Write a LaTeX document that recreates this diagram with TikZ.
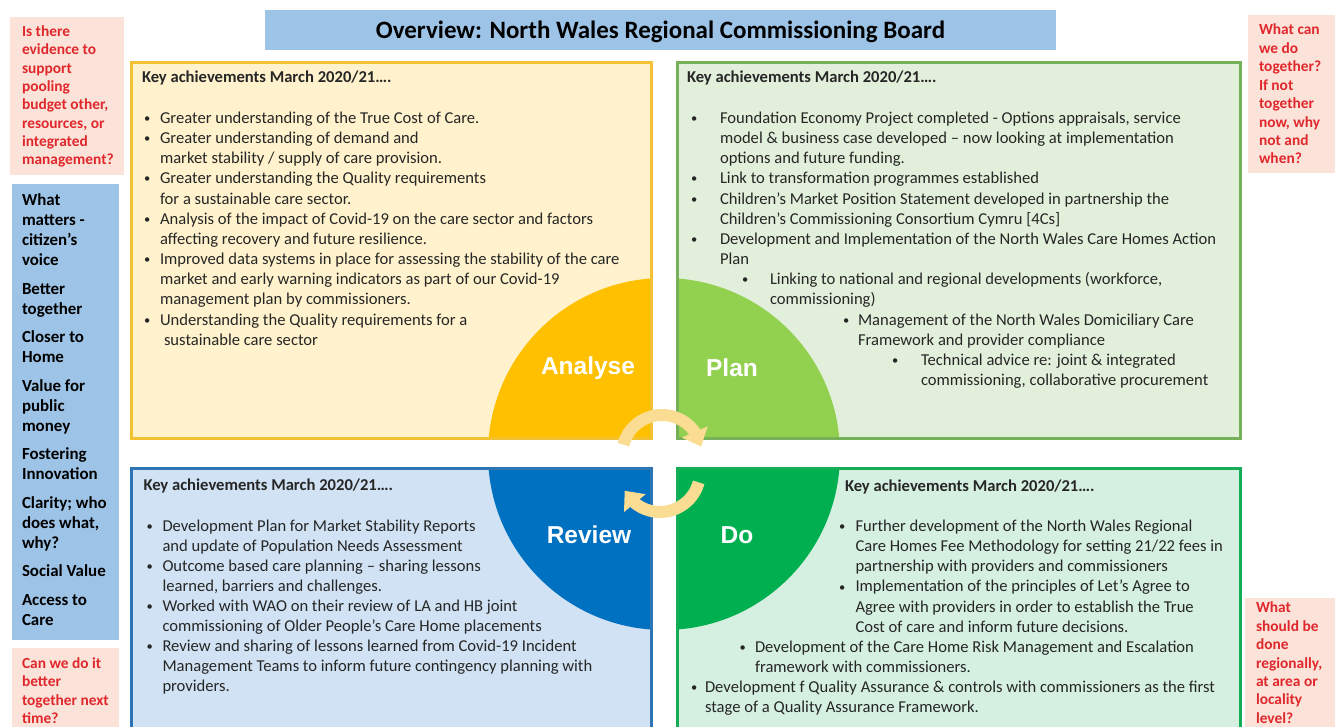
\documentclass[tikz,border=0pt]{standalone}
\usepackage{fontspec}
\setmainfont{Carlito}
\newfontfamily\arialfont{Liberation Sans}
\usetikzlibrary{arrows.meta,bending}
\definecolor{titlebg}{HTML}{9DC3E6}
\definecolor{pinkbg}{HTML}{FBE3DA}
\definecolor{redtxt}{HTML}{E0282C}
\definecolor{bluebg}{HTML}{9DC3E6}
\definecolor{tlfill}{HTML}{FFF2CC}
\definecolor{tlline}{HTML}{F2C232}
\definecolor{trfill}{HTML}{E2EFDA}
\definecolor{trline}{HTML}{76B15A}
\definecolor{blfill}{HTML}{D0E2F3}
\definecolor{blline}{HTML}{2E75B6}
\definecolor{brfill}{HTML}{D5F0E0}
\definecolor{brline}{HTML}{14AC55}
\definecolor{analysec}{HTML}{FFC000}
\definecolor{planc}{HTML}{92D050}
\definecolor{reviewc}{HTML}{0070C0}
\definecolor{doc}{HTML}{00B050}
\definecolor{cycc}{HTML}{FADD92}
\definecolor{bodytxt}{HTML}{262626}
\newcommand\smbul{\raisebox{0.9pt}{\fontsize{12.5}{12.5}\selectfont\textbullet}}
\newcommand\bll[3]{\hspace*{#1pt}\makebox[0pt][l]{\smbul}\hspace*{\dimexpr #2pt - #1pt\relax}#3}
\newcommand\txl[2]{\hspace*{#1pt}#2}
\tikzset{
  txt/.style={anchor=base west, inner sep=0pt, outer sep=0pt, text=bodytxt, font=\fontsize{16.6}{20}\selectfont},
  redq/.style={anchor=base west, inner sep=0pt, outer sep=0pt, text=redtxt, font=\fontsize{15.4}{18.4}\selectfont\bfseries},
  bluet/.style={anchor=base west, inner sep=0pt, outer sep=0pt, text=black, font=\fontsize{16.9}{20}\selectfont\bfseries},
  lab/.style={inner sep=0pt, text=white, font=\arialfont\bfseries\fontsize{24.5}{28}\selectfont},
  cyc/.style={draw=cycc, line width=12pt, -{Triangle[width=27pt,length=16pt]}},
  qbox/.style={line width=3pt}
}
\begin{document}
\begin{tikzpicture}[x=1pt,y=1pt]
\useasboundingbox (0,0) rectangle (1339,727);
\clip (0,0) rectangle (1339,727);
\fill[white] (0,0) rectangle (1339,727);
% title
\fill[titlebg] (265,677) rectangle (1056,717);
\node[inner sep=0pt, font=\fontsize{25}{30}\selectfont\bfseries, text=black] (title) at (660.5,695.5) {Overview: North Wales Regional Commissioning Board};
% side boxes
\fill[pinkbg] (10,552) rectangle (124,710);
\fill[bluebg] (12,87) rectangle (119,543);
\fill[pinkbg] (12,-5) rectangle (119,79);
\fill[pinkbg] (1248,554) rectangle (1335,712);
\fill[pinkbg] (1245,-5) rectangle (1335,129);
% quadrants
\fill[tlfill] (131,288) rectangle (651,664);
\begin{scope}\clip (131,288) rectangle (651,664); \fill[analysec] (664,273) circle[radius=176];\end{scope}
\draw[qbox, tlline] (131,288) rectangle (651,664);
\fill[trfill] (677,288) rectangle (1240,664);
\begin{scope}\clip (677,288) rectangle (1240,664); \fill[planc] (664,273) circle[radius=176];\end{scope}
\draw[qbox, trline] (677,288) rectangle (1240,664);
\fill[blfill] (131,-10) rectangle (651,258);
\begin{scope}\clip (131,-10) rectangle (651,258); \fill[reviewc] (664,273) circle[radius=176];\end{scope}
\draw[qbox, blline] (131,-10) rectangle (651,258);
\fill[brfill] (677,-10) rectangle (1240,258);
\begin{scope}\clip (677,-10) rectangle (1240,258); \fill[doc] (664,273) circle[radius=176];\end{scope}
\draw[qbox, brline] (677,-10) rectangle (1240,258);
% stage labels
\node[lab] (analyse) at (588,359) {Analyse};
\node[lab] (plan) at (732,359) {Plan};
\node[lab] (review) at (589,192) {Review};
\node[lab] (do) at (737,192) {Do};
% cycle arrows
\coordinate (ctop) at (662,272);
\coordinate (cbot) at (660,255);
\draw[cyc] ([shift={(165:40)}]ctop) arc[start angle=165, end angle=12, radius=40];
\draw[cyc] ([shift={(-15:40)}]cbot) arc[start angle=-15, end angle=-152, radius=40];
% side texts
\node[redq] (q1) at (22,690.5) {\parbox[t]{110pt}{\setlength\baselineskip{18.35pt}%
Is there\\evidence to\\support\\pooling\\budget other,\\resources, or\\integrated\\management?}};
\node[bluet] (values) at (22,521) {\parbox[t]{110pt}{\setlength\baselineskip{20pt}%
What\\matters -\\citizen's\\voice\\[8.5pt]Better\\together\\[8.5pt]Closer to\\Home\\[8.5pt]Value for\\public\\money\\[8.5pt]Fostering\\Innovation\\[8.5pt]Clarity; who\\does what,\\why?\\[8.5pt]Social Value\\[8.5pt]Access to\\Care}};
\node[redq] (q2) at (22,58.5) {\parbox[t]{110pt}{\setlength\baselineskip{18.5pt}%
Can we do it\\better\\together next\\time?}};
\node[redq] (q3) at (1259,692) {\parbox[t]{90pt}{\setlength\baselineskip{18.43pt}%
What can\\we do\\together?\\If not\\together\\now, why\\not and\\when?}};
\node[redq] (q4) at (1256,114) {\parbox[t]{90pt}{\setlength\baselineskip{18.4pt}%
What\\should be\\done\\regionally,\\at area or\\locality\\level?}};
% quadrant texts
\node[txt] (tlbody) at (142,644) {\parbox[t]{600pt}{\setlength\baselineskip{20.17pt}%
\textbf{Key achievements March 2020/21….}\\[20.17pt]
\bll{2}{18}{Greater understanding of the True Cost of Care.}\\
\bll{2}{18}{Greater understanding of demand and}\\
\txl{18}{market stability / supply of care provision.}\\
\bll{2}{18}{Greater understanding the Quality requirements}\\
\txl{18}{for a sustainable care sector.}\\
\bll{2}{18}{Analysis of the impact of Covid-19 on the care sector and factors}\\
\txl{18}{affecting recovery and future resilience.}\\
\bll{2}{18}{Improved data systems in place for assessing the stability of the care}\\
\txl{18}{market and early warning indicators as part of our Covid-19}\\
\txl{18}{management plan by commissioners.}\\
\bll{2}{18}{Understanding the Quality requirements for a}\\
\txl{22}{sustainable care sector}}};
\node[txt] (trbody) at (687,644) {\parbox[t]{600pt}{\setlength\baselineskip{20.17pt}%
\textbf{Key achievements March 2020/21….}\\[20.17pt]
\bll{4}{33}{Foundation Economy Project completed - Options appraisals, service}\\
\txl{33}{model \& business case developed – now looking at implementation}\\
\txl{33}{options and future funding.}\\
\bll{4}{33}{Link to transformation programmes established}\\
\bll{4}{33}{Children's Market Position Statement developed in partnership the}\\
\txl{33}{Children’s Commissioning Consortium Cymru [4Cs]}\\
\bll{4}{33}{Development and Implementation of the North Wales Care Homes Action}\\
\txl{33}{Plan}\\
\bll{55}{83}{Linking to national and regional developments (workforce,}\\
\txl{83}{commissioning)}\\
\bll{156}{171}{Management of the North Wales Domiciliary Care}\\
\txl{171}{Framework and provider compliance}\\
\bll{205}{234}{Technical advice re: joint \& integrated}\\
\txl{234}{commissioning, collaborative procurement}}};
\node[txt] (blbody) at (143.5,236) {\parbox[t]{600pt}{\setlength\baselineskip{20.1pt}%
\textbf{Key achievements March 2020/21….}\\[20.1pt]
\bll{3}{19}{Development Plan for Market Stability Reports}\\
\txl{19}{and update of Population Needs Assessment}\\
\bll{3}{19}{Outcome based care planning – sharing lessons}\\
\txl{19}{learned, barriers and challenges.}\\
\bll{3}{19}{Worked with WAO on their review of LA and HB joint}\\
\txl{19}{commissioning of Older People’s Care Home placements}\\
\bll{3}{19}{Review and sharing of lessons learned from Covid-19 Incident}\\
\txl{19}{Management Teams to inform future contingency planning with}\\
\txl{19}{providers.}}};
\node[txt] (brbody) at (690,235.5) {\parbox[t]{650pt}{\setlength\baselineskip{20.1pt}%
\txl{155}{\textbf{Key achievements March 2020/21….}}\\[20.1pt]
\bll{149}{165.5}{Further development of the North Wales Regional}\\
\txl{165.5}{Care Homes Fee Methodology for setting 21/22 fees in}\\
\txl{165.5}{partnership with providers and commissioners}\\
\bll{149}{165.5}{Implementation of the principles of Let’s Agree to}\\
\txl{165.5}{Agree with providers in order to establish the True}\\
\txl{165.5}{Cost of care and inform future decisions.}\\
\bll{49.5}{65}{Development of the Care Home Risk Management and Escalation}\\
\txl{65}{framework with commissioners.}\\
\bll{1}{15}{Development f Quality Assurance \& controls with commissioners as the first}\\
\txl{15}{stage of a Quality Assurance Framework.}}};
\end{tikzpicture}
\end{document}
